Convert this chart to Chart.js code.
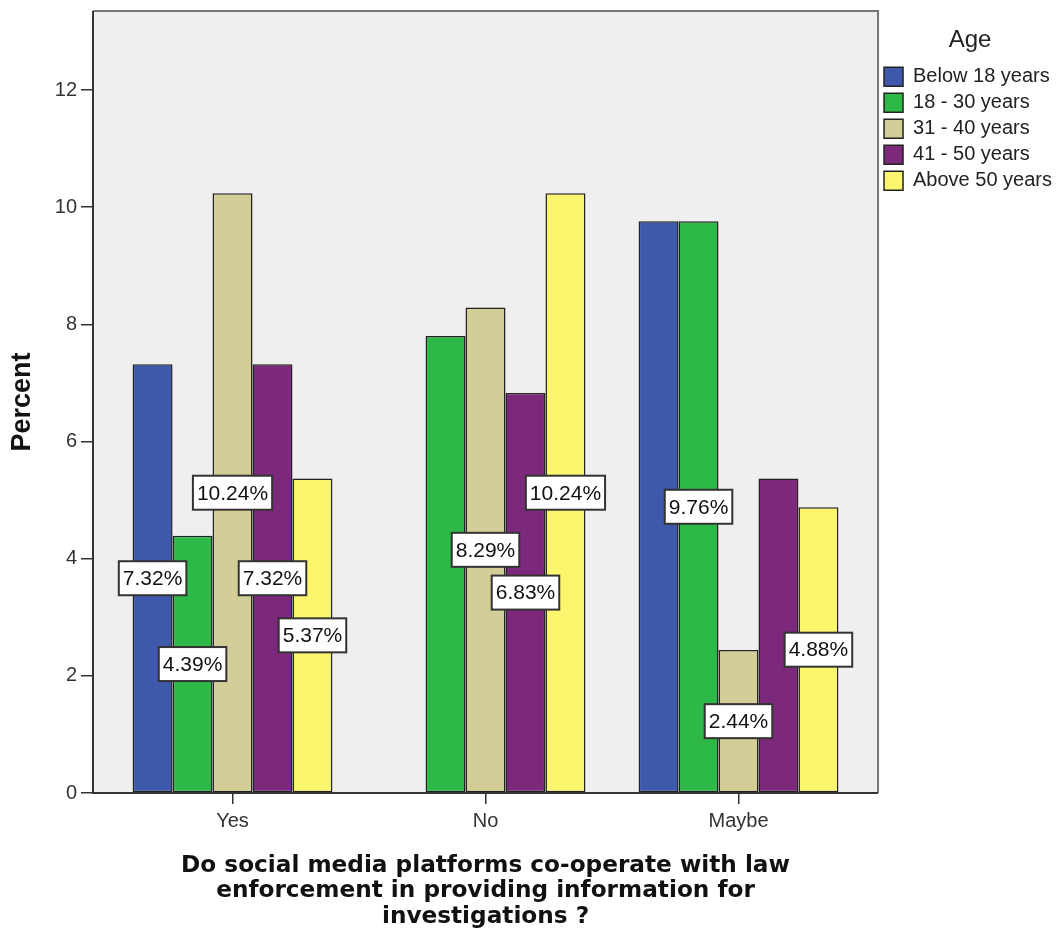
<!DOCTYPE html>
<html>
<head>
<meta charset="utf-8">
<script src="https://cdn.jsdelivr.net/npm/chart.js@4"></script>
<style>
  body { margin: 0; background: #ffffff; }
  #wrap { width: 1056px; height: 935px; position: relative; }
</style>
</head>
<body>
<div id="wrap"><canvas id="chart"></canvas></div>
<script>
// Data
const categories = ['Yes', 'No', 'Maybe'];
const ageGroups = ['Below 18 years', '18 - 30 years', '31 - 40 years', '41 - 50 years', 'Above 50 years'];
const below18 = [7.32, 0, 9.76];
const age18to30 = [4.39, 7.80, 9.76];
const age31to40 = [10.24, 8.29, 2.44];
const age41to50 = [7.32, 6.83, 5.37];
const above50 = [5.37, 10.24, 4.88];
const yTicks = [0, 2, 4, 6, 8, 10, 12];

const seriesValues = [below18, age18to30, age31to40, age41to50, above50];
const seriesColors = ['#3e58ac', '#2eb848', '#d3ce97', '#7c287b', '#fbf66e'];

// Grey plot background and frame
const plotFrame = {
    id: 'plotFrame',
    beforeDatasetsDraw(chart) {
        const {ctx, chartArea: a} = chart;
        ctx.save();
        ctx.fillStyle = '#efefef';
        ctx.fillRect(a.left, a.top, a.right - a.left, a.bottom - a.top);
        ctx.restore();
    },
    afterDatasetsDraw(chart) {
        const {ctx, chartArea: a} = chart;
        ctx.save();
        ctx.lineWidth = 2;
        ctx.strokeStyle = '#777777';
        ctx.beginPath();
        ctx.moveTo(a.left, a.top);
        ctx.lineTo(a.right, a.top);
        ctx.lineTo(a.right, a.bottom);
        ctx.stroke();
        ctx.strokeStyle = '#333333';
        ctx.beginPath();
        ctx.moveTo(a.left, a.top);
        ctx.lineTo(a.left, a.bottom);
        ctx.lineTo(a.right, a.bottom);
        ctx.stroke();
        ctx.restore();
    }
};

// Value boxes in the middle of each bar, skipped when they would overlap
const valueBoxes = {
    id: 'valueBoxes',
    afterDraw(chart) {
        const ctx = chart.ctx;
        const placed = [];
        ctx.save();
        ctx.font = '21px "Liberation Sans", Arial, sans-serif';
        ctx.textAlign = 'center';
        ctx.textBaseline = 'middle';
        for (let d = chart.data.datasets.length - 1; d >= 0; d--) {
            const meta = chart.getDatasetMeta(d);
            meta.data.forEach((bar, i) => {
                const value = chart.data.datasets[d].data[i].y;
                if (!value) return;
                const text = value.toFixed(2) + '%';
                const w = ctx.measureText(text).width + 8;
                const h = 34;
                const cx = bar.x;
                const cy = (bar.y + bar.base) / 2;
                const box = {l: cx - w / 2, r: cx + w / 2, t: cy - h / 2, b: cy + h / 2};
                const hit = placed.some(p => box.l < p.r && box.r > p.l && box.t < p.b && box.b > p.t);
                if (hit) return;
                placed.push(box);
                ctx.fillStyle = '#ffffff';
                ctx.fillRect(box.l, box.t, w, h);
                ctx.lineWidth = 2;
                ctx.strokeStyle = '#333333';
                ctx.strokeRect(box.l, box.t, w, h);
                ctx.fillStyle = '#111111';
                ctx.fillText(text, cx, cy + 1);
            });
        }
        ctx.restore();
    }
};

const datasets = ageGroups.map((name, k) => ({
    label: name,
    data: seriesValues[k].map((v, i) => ({ x: i, y: v })),
    backgroundColor: seriesColors[k],
    borderColor: '#222222',
    borderWidth: 1.5,
    borderSkipped: false
}));

new Chart(document.getElementById('chart'), {
    type: 'bar',
    data: { datasets: datasets },
    options: {
        responsive: true,
        maintainAspectRatio: false,
        animation: false,
        layout: { padding: { top: 11, right: -6, bottom: 0, left: 0 } },
        datasets: {
            bar: { categoryPercentage: 0.79, barPercentage: 1.0 }
        },
        scales: {
            x: {
                type: 'linear',
                min: -0.5515,
                max: 2.5515,
                offset: false,
                afterBuildTicks(scale) { scale.ticks = categories.map((c, i) => ({ value: i })); },
                grid: { display: true, drawOnChartArea: false, offset: false, tickLength: 11, color: '#333333', lineWidth: 1.5 },
                border: { display: false },
                ticks: {
                    color: '#333333',
                    padding: 5,
                    font: { family: '"Liberation Sans", Arial', size: 20 },
                    callback: (value) => categories[value]
                },
                title: {
                    display: true,
                    text: ['Do social media platforms co-operate with law', 'enforcement in providing information for', 'investigations ?'],
                    color: '#111111',
                    font: { family: '"DejaVu Sans", sans-serif', size: 23.2, weight: 'bold', lineHeight: 1.11 },
                    padding: { top: 0, bottom: 5 }
                },
                afterFit(scale) {
                    scale.height = 142;
                    scale.paddingLeft = 0;
                    scale.paddingRight = 0;
                }
            },
            y: {
                min: 0,
                max: 13.35,
                afterBuildTicks(scale) { scale.ticks = yTicks.map(v => ({ value: v })); },
                grid: { display: true, drawOnChartArea: false, tickLength: 12, color: '#333333', lineWidth: 1.5 },
                border: { display: false },
                ticks: { color: '#333333', padding: 4, font: { family: '"Liberation Sans", Arial', size: 20 } },
                title: {
                    display: true,
                    text: 'Percent',
                    color: '#111111',
                    font: { family: '"Liberation Sans", Arial', size: 27, weight: 'bold', lineHeight: 1.2 },
                    padding: { top: 6, bottom: 0 }
                },
                afterFit(scale) {
                    scale.width = 93;
                    scale.paddingTop = 0;
                    scale.paddingBottom = 0;
                }
            }
        },
        plugins: {
            legend: {
                position: 'right',
                align: 'start',
                title: {
                    display: true,
                    text: 'Age',
                    color: '#222222',
                    font: { family: '"Liberation Sans", Arial', size: 24 },
                    padding: { top: 17, bottom: 4 }
                },
                labels: {
                    color: '#222222',
                    boxWidth: 19,
                    boxHeight: 19,
                    padding: 6,
                    font: { family: '"Liberation Sans", Arial', size: 20 }
                }
            },
            tooltip: { enabled: false }
        }
    },
    plugins: [plotFrame, valueBoxes]
});
</script>
</body>
</html>
